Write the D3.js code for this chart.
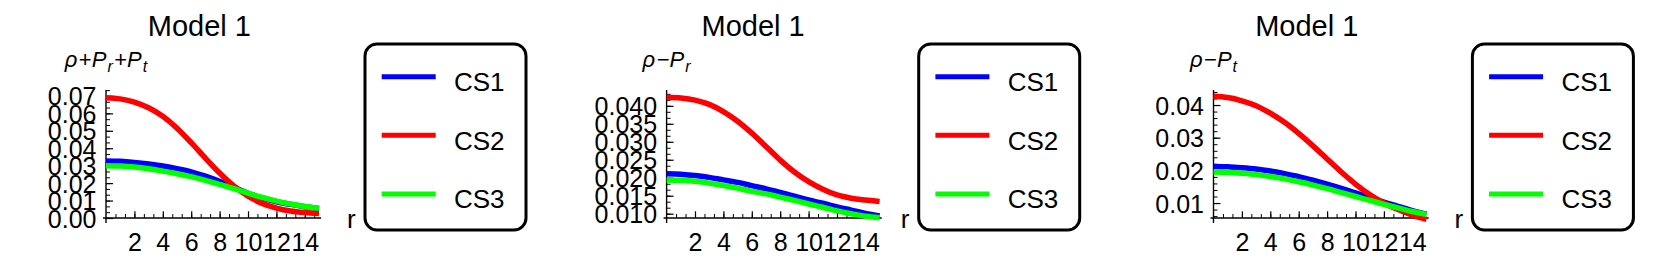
<!DOCTYPE html>
<html>
<head>
<meta charset="utf-8">
<script src="https://cdn.jsdelivr.net/npm/d3@7"></script>
<style>
  body { margin: 0; background: #fff; }
  svg { display: block; font-family: "Liberation Sans", Arial, sans-serif; }
</style>
</head>
<body>
<svg id="chart" width="1661" height="270"></svg>
<script>
// radial coordinate r
const radius = [0, 1, 2, 3, 4, 5, 6, 7, 8, 9, 10, 11, 12, 13, 14, 15];
const seriesNames = ["CS1", "CS2", "CS3"];

// rho + P_r + P_t
const sumCS1 = [0.0327, 0.0325, 0.0319, 0.0310, 0.0298, 0.0283, 0.0265, 0.0240, 0.0210, 0.0176, 0.0142, 0.0115, 0.0093, 0.0078, 0.0065, 0.0055];
const sumCS2 = [0.0690, 0.0683, 0.0665, 0.0632, 0.0583, 0.0515, 0.0432, 0.0343, 0.0258, 0.0184, 0.0125, 0.0084, 0.0057, 0.0040, 0.0031, 0.0026];
const sumCS3 = [0.0300, 0.0298, 0.0292, 0.0282, 0.0269, 0.0254, 0.0237, 0.0216, 0.0193, 0.0168, 0.0142, 0.0118, 0.0097, 0.0080, 0.0066, 0.0056];

// rho - P_r
const radCS1 = [0.0211, 0.0210, 0.0206, 0.0201, 0.0194, 0.0187, 0.0178, 0.0169, 0.0159, 0.0149, 0.0138, 0.0129, 0.0119, 0.0110, 0.0101, 0.0094];
const radCS2 = [0.0424, 0.0422, 0.0416, 0.0404, 0.0384, 0.0357, 0.0324, 0.0287, 0.0249, 0.0216, 0.0189, 0.0168, 0.0152, 0.0143, 0.0138, 0.0134];
const radCS3 = [0.0194, 0.0193, 0.0190, 0.0185, 0.0178, 0.0171, 0.0162, 0.0155, 0.0146, 0.0137, 0.0127, 0.0118, 0.0108, 0.0100, 0.0093, 0.0089];

// rho - P_t
const tanCS1 = [0.0212, 0.0211, 0.0208, 0.0204, 0.0198, 0.0190, 0.0181, 0.0170, 0.0158, 0.0145, 0.0131, 0.0117, 0.0103, 0.0090, 0.0077, 0.0066];
const tanCS2 = [0.0427, 0.0423, 0.0413, 0.0398, 0.0375, 0.0347, 0.0313, 0.0275, 0.0235, 0.0195, 0.0158, 0.0126, 0.0100, 0.0080, 0.0063, 0.0050];
const tanCS3 = [0.0195, 0.0194, 0.0191, 0.0187, 0.0181, 0.0174, 0.0165, 0.0155, 0.0144, 0.0132, 0.0120, 0.0108, 0.0096, 0.0085, 0.0074, 0.0065];

// tick labels
const xTicks = [2, 4, 6, 8, 10, 12, 14];
const sumTicks = [0, 0.01, 0.02, 0.03, 0.04, 0.05, 0.06, 0.07];
const radTicks = [0.010, 0.015, 0.020, 0.025, 0.030, 0.035, 0.040];
const tanTicks = [0.01, 0.02, 0.03, 0.04];

const colors = ["#0000ff", "#ff0000", "#00ff00"];
const drawOrder = [0, 1, 2];

const panels = [
  { offset: 0, axisX: 106, yDomain: [0, 0.0734], ticks: sumTicks, minor: 0.01 / 3, fmt: ".2f",
    series: [sumCS1, sumCS2, sumCS3],
    label: [["ρ", "i"], ["+", "o"], ["P", "i"], ["r", "s"], ["+", "o"], ["P", "i"], ["t", "s"]] },
  { offset: 553.7, axisX: 666.6, yDomain: [0.0088, 0.0444], ticks: radTicks, minor: 0.005 / 3, fmt: ".3f",
    series: [radCS1, radCS2, radCS3],
    label: [["ρ", "i"], ["−", "o"], ["P", "i"], ["r", "s"]] },
  { offset: 1107.4, axisX: 1213.5, yDomain: [0.00542, 0.0446], ticks: tanTicks, minor: 0.002, fmt: ".2f",
    series: [tanCS1, tanCS2, tanCS3],
    label: [["ρ", "i"], ["−", "o"], ["P", "i"], ["t", "s"]] }
];

const size = { top: 90, bottom: 218, plotWidth: 213 };
const svg = d3.select("#chart");
svg.append("rect").attr("width", 1661).attr("height", 270).attr("fill", "#fff");

panels.forEach(p => drawPanel(p));

function drawPanel(p) {
  const g = svg.append("g");
  const x = d3.scaleLinear().domain([0, 15]).range([p.axisX, p.axisX + size.plotWidth]);
  const y = d3.scaleLinear().domain(p.yDomain).range([size.bottom, size.top]);

  // title
  g.append("text")
    .attr("x", p.offset + 199.4).attr("y", 36)
    .attr("text-anchor", "middle")
    .style("font-size", "29px")
    .text("Model 1");

  // y axis label, centred over the axis
  const lab = g.append("text")
    .attr("x", p.axisX).attr("y", 67)
    .attr("text-anchor", "middle")
    .style("font-size", "22px");
  let shifted = false;
  p.label.forEach(([t, kind]) => {
    const ts = lab.append("tspan").text(t);
    if (kind === "s") {
      ts.attr("dy", 5).attr("dx", 1).style("font-size", "16px").style("font-style", "italic");
      shifted = true;
    } else {
      let dy = 0;
      if (shifted) { dy = -5; shifted = false; }
      if (dy) ts.attr("dy", dy);
      if (kind === "i") ts.style("font-style", "italic");
      if (kind === "o") ts.attr("dx", 1.5);
    }
  });

  // minor ticks
  const yMinor = d3.range(Math.ceil(p.yDomain[0] / p.minor - 1e-6) * p.minor, p.yDomain[1], p.minor);
  g.append("g")
    .attr("transform", `translate(${p.axisX},0)`)
    .call(d3.axisLeft(y).tickValues(yMinor).tickSize(-4).tickSizeOuter(0).tickFormat(""))
    .call(a => a.select(".domain").remove())
    .selectAll("line").attr("stroke-width", 1);

  const xMinor = d3.range(2 / 3, 15.01, 2 / 3);
  g.append("g")
    .attr("transform", `translate(0,${size.bottom})`)
    .call(d3.axisBottom(x).tickValues(xMinor).tickSize(-4).tickSizeOuter(0).tickFormat(""))
    .call(a => a.select(".domain").remove())
    .selectAll("line").attr("stroke-width", 1);

  // major ticks + labels
  const yAxis = g.append("g")
    .attr("transform", `translate(${p.axisX},0)`)
    .call(d3.axisLeft(y).tickValues(p.ticks).tickSize(-7).tickSizeOuter(0)
      .tickPadding(9.5).tickFormat(d3.format(p.fmt)));
  yAxis.select(".domain").remove();
  yAxis.selectAll(".tick line").attr("stroke-width", 1.2);
  yAxis.selectAll(".tick text")
    .attr("dy", "0.36em")
    .style("font-size", "25px")
    .style("font-family", "'Liberation Sans', Arial, sans-serif")
    .attr("fill", "#000");

  const xAxis = g.append("g")
    .attr("transform", `translate(0,${size.bottom})`)
    .call(d3.axisBottom(x).tickValues(xTicks).tickSize(-6.7).tickSizeOuter(0).tickPadding(15));
  xAxis.select(".domain").remove();
  xAxis.selectAll(".tick line").attr("stroke-width", 1.2);
  xAxis.selectAll(".tick text")
    .style("font-size", "25px")
    .style("font-family", "'Liberation Sans', Arial, sans-serif")
    .attr("fill", "#000");

  // axis lines
  g.append("line")
    .attr("x1", p.axisX).attr("x2", p.axisX)
    .attr("y1", size.top).attr("y2", size.bottom + 5)
    .attr("stroke", "#000").attr("stroke-width", 1.4);
  g.append("line")
    .attr("x1", p.axisX - 3).attr("x2", x(15.15))
    .attr("y1", size.bottom).attr("y2", size.bottom)
    .attr("stroke", "#000").attr("stroke-width", 1.4);

  // r label
  g.append("text")
    .attr("x", p.offset + 347).attr("y", 228)
    .style("font-size", "26px")
    .text("r");

  // curves
  const line = d3.line()
    .x((d, i) => x(radius[i]))
    .y(d => y(d))
    .curve(d3.curveMonotoneX);
  drawOrder.forEach(k => {
    g.append("path")
      .attr("d", line(p.series[k]))
      .attr("fill", "none")
      .attr("stroke", colors[k])
      .attr("stroke-width", 5.5)
      .attr("stroke-linejoin", "round");
  });

  // legend
  const lg = g.append("g").attr("transform", `translate(${p.offset},0)`);
  lg.append("rect")
    .attr("x", 365).attr("y", 44)
    .attr("width", 161).attr("height", 186)
    .attr("rx", 12).attr("ry", 12)
    .attr("fill", "#fff").attr("stroke", "#000").attr("stroke-width", 3);
  seriesNames.forEach((name, i) => {
    const ly = 76.7 + i * 58.6;
    lg.append("line")
      .attr("x1", 381.7).attr("x2", 435.7)
      .attr("y1", ly).attr("y2", ly)
      .attr("stroke", colors[i]).attr("stroke-width", 5);
    lg.append("text")
      .attr("x", 454).attr("y", ly + 14.3)
      .style("font-size", "26px")
      .text(name);
  });
}
</script>
</body>
</html>
